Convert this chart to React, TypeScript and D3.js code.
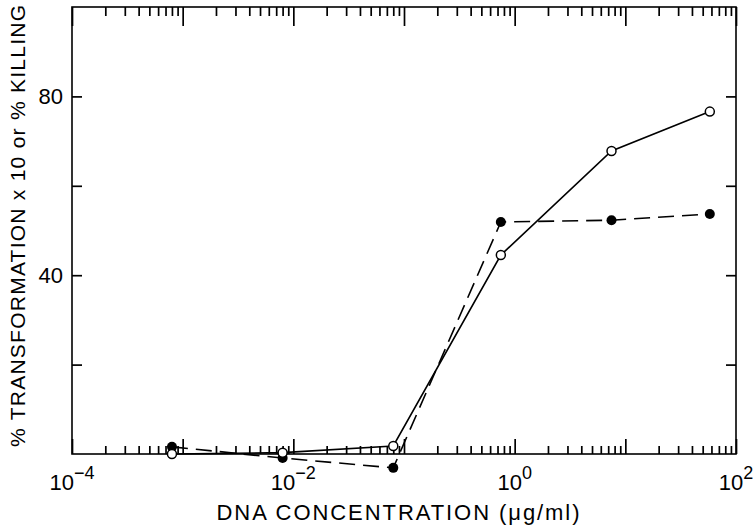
import React, { useEffect, useRef } from "react";
import * as d3 from "d3";

const concentrations = [0.0008, 0.008, 0.08, 0.75, 7.5, 58];
const transformation = [0, 0.3, 1.8, 44.5, 67.8, 76.6];
const killing = [1.6, -0.9, -3.1, 51.9, 52.3, 53.7];
const yTickValues = [20, 40, 60, 80];
const yTickLabels = ["80", "40"];
const xLabelExponents = [-4, -2, 0, 2];
const decadeExponents = [-4, -3, -2, -1, 0, 1, 2];
const minorMultipliers = [2, 3, 4, 5, 6, 7, 8, 9];

const W = 756;
const H = 529;
const L = 72;
const R = 736;
const T = 7;
const B = 454;
const FONT = "'Liberation Sans', Arial, sans-serif";

export default function App() {
  const ref = useRef<SVGGElement | null>(null);
  const xs = d3.scaleLog().domain([1e-4, 1e2]).range([L, R]);
  const ys = d3.scaleLinear().domain([0, 100]).range([B, T]);

  const majors = decadeExponents.map((e) => Math.pow(10, e));
  const minors = decadeExponents
    .slice(0, -1)
    .flatMap((e) => minorMultipliers.map((m) => m * Math.pow(10, e)));

  useEffect(() => {
    if (!ref.current) return;
    const g = d3.select(ref.current);
    g.selectAll("*").remove();
    const addAxis = (axis: any, tx: number, ty: number) => {
      const a = g.append("g").attr("transform", `translate(${tx},${ty})`).call(axis);
      a.select(".domain").remove();
      a.selectAll("text").remove();
      a.selectAll("line").attr("stroke", "#000").attr("stroke-width", 1.7);
    };
    addAxis(d3.axisBottom(xs).tickValues(minors).tickSize(-8), 0, B);
    addAxis(d3.axisBottom(xs).tickValues(majors).tickSize(-15), 0, B);
    addAxis(d3.axisTop(xs).tickValues(minors).tickSize(-9), 0, T);
    addAxis(d3.axisTop(xs).tickValues(majors).tickSize(-19), 0, T);
    addAxis(d3.axisLeft(ys).tickValues(yTickValues).tickSize(-10), L, 0);
    addAxis(d3.axisRight(ys).tickValues(yTickValues).tickSize(-10), R, 0);
  }, []);

  const seriesLine = d3
    .line<number>()
    .x((_, i) => xs(concentrations[i]))
    .y((d) => ys(d));

  return (
    <svg width={W} height={H} style={{ position: "absolute", left: 0, top: 0 }}>
      <rect x={0} y={0} width={W} height={H} fill="#fff" />
      <rect x={L} y={T} width={R - L} height={B - T} fill="none" stroke="#000" strokeWidth={1.6} />
      <g ref={ref} />

      {yTickLabels.map((t) => (
        <text
          key={"ylab" + t}
          x={L - 9}
          y={ys(+t)}
          dy="0.36em"
          textAnchor="end"
          fontSize={22}
          fontFamily={FONT}
          fill="#000"
        >
          {t}
        </text>
      ))}

      {xLabelExponents.map((e) => (
        <text
          key={"xlab" + e}
          x={xs(Math.pow(10, e))}
          y={490}
          textAnchor="middle"
          fontSize={22}
          fontFamily={FONT}
          fill="#000"
        >
          10
          <tspan dy={-11} fontSize={18}>
            {e < 0 ? "\u2212" + Math.abs(e) : String(e)}
          </tspan>
        </text>
      ))}

      <text
        x={398}
        y={520}
        textAnchor="middle"
        fontSize={22}
        fontFamily={FONT}
        textLength={363}
        lengthAdjust="spacing"
        fill="#000"
      >
        DNA CONCENTRATION (μg/ml)
      </text>
      <text
        transform="translate(25,226) rotate(-90)"
        textAnchor="middle"
        fontSize={21}
        fontFamily={FONT}
        textLength={442}
        lengthAdjust="spacing"
        fill="#000"
      >
        % TRANSFORMATION x 10 or % KILLING
      </text>

      <path d={seriesLine(transformation) || ""} fill="none" stroke="#000" strokeWidth={1.6} />
      <path
        d={seriesLine(killing) || ""}
        fill="none"
        stroke="#000"
        strokeWidth={1.6}
        strokeDasharray="16 8"
      />

      {killing.map((v, i) => (
        <circle key={"k" + i} cx={xs(concentrations[i])} cy={ys(v)} r={5} fill="#000" />
      ))}
      {transformation.map((v, i) => (
        <circle
          key={"t" + i}
          cx={xs(concentrations[i])}
          cy={ys(v)}
          r={4.5}
          fill="#fff"
          stroke="#000"
          strokeWidth={1.5}
        />
      ))}
    </svg>
  );
}
